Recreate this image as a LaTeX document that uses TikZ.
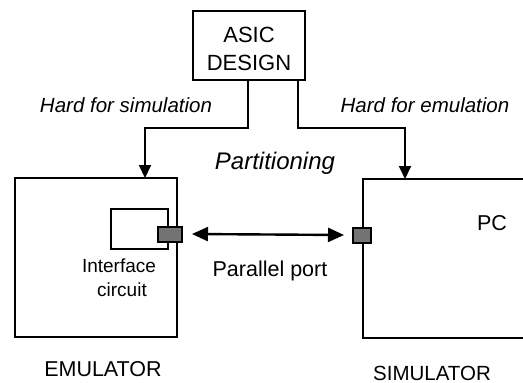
\documentclass[tikz,border=0pt]{standalone}
\usepackage{fontspec}
\setmainfont{Liberation Sans}
\usetikzlibrary{arrows.meta}
\begin{document}
\begin{tikzpicture}[x=1pt,y=-1pt,
  wire/.style={line width=2pt},
  tip/.style={-{Triangle[length=13pt,width=12pt]}},
  box/.style={draw,line width=2pt},
  port/.style={draw,line width=2pt,fill=black!55,inner sep=0pt},
  lbl/.style={inner sep=0pt,anchor=base,font=\fontsize{21.5}{24}\selectfont},
  ilbl/.style={inner sep=0pt,anchor=base,font=\fontsize{20.5}{24}\selectfont\itshape}]
\useasboundingbox (0,0) rectangle (523,383);
% top block
\draw[box] (193,11) rectangle (305,80);
\node[lbl,font=\fontsize{22}{24}\selectfont] (asic1) at (249,42) {ASIC};
\node[lbl,font=\fontsize{22}{24}\selectfont] (asic2) at (249,70) {DESIGN};
\coordinate (asicL) at (248,80);
\coordinate (asicR) at (298,80);
% emulator board with the interface circuit
\draw[box] (15,178) rectangle (177,337);
\coordinate (emutop) at (145,178);
\draw[box] (111,209) rectangle (168,249);
\node[port,minimum width=24pt,minimum height=15pt] (pl) at (170,234) {};
% simulator board, running off the right edge
\draw[line width=2pt] (530,179) -- (363,179) -- (363,338) -- (530,338);
\coordinate (simtop) at (405,179);
\node[port,minimum width=18pt,minimum height=15pt] (pr) at (362,235) {};
% partition connectors
\draw[wire,tip] (asicL) |- (145,128) -- (emutop);
\draw[wire,tip] (asicR) |- (405,128) -- (simtop);
% parallel port link
\draw[line width=2.4pt,{Triangle[length=16pt,width=14pt]}-{Triangle[length=16pt,width=14pt]}]
  ([xshift=9pt]pl.east) -- ([xshift=-8pt]pr.west);
% labels
\node[ilbl] (hs) at (126,112) {Hard for simulation};
\node[ilbl] (he) at (425,112) {Hard for emulation};
\node[ilbl,font=\fontsize{24}{26}\selectfont\itshape] (part) at (275,169) {Partitioning};
\node[lbl,font=\fontsize{19}{20}\selectfont] (ic1) at (119,272) {Interface};
\node[lbl,font=\fontsize{19}{20}\selectfont] (ic2) at (122,296) {circuit};
\node[lbl] (pp) at (270,276) {Parallel port};
\node[lbl] (pc) at (492,230) {PC};
\node[lbl] (emu) at (103,376) {EMULATOR};
\node[lbl,font=\fontsize{20.5}{24}\selectfont] (sim) at (432,380) {SIMULATOR};
\end{tikzpicture}
\end{document}
